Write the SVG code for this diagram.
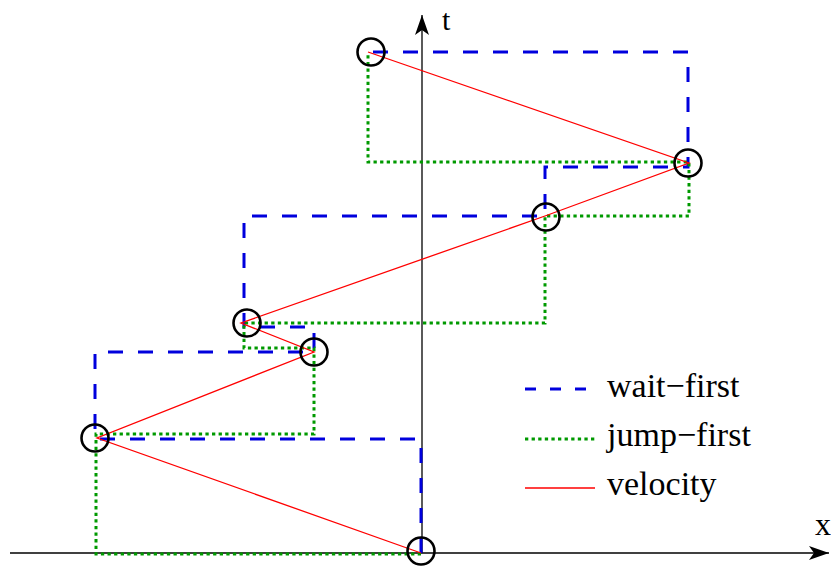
<svg xmlns="http://www.w3.org/2000/svg" width="831" height="569" viewBox="0 0 831 569">
<style>
.axis{stroke:#000;stroke-width:1.3;fill:none}
.wait{stroke:#0000dd;stroke-width:3;stroke-dasharray:15 15;fill:none}
.jump{stroke:#009900;stroke-width:3;stroke-dasharray:3.3 3.3;fill:none}
.vel{stroke:#ff0000;stroke-width:1.3;fill:none}
.pt{stroke:#000;stroke-width:2.6;fill:none}
.lbl{font-family:"Liberation Serif","Times New Roman",serif;font-size:34px;fill:#000}
</style>
<defs>
<marker id="ah" viewBox="0 0 20 14" refX="20" refY="7" markerWidth="20" markerHeight="14" markerUnits="userSpaceOnUse" orient="auto">
<path d="M0,0 L20,7 L0,14 L5,7 Z" fill="#000"/>
</marker>
</defs>
<g id="axes">
<line class="axis" x1="10" y1="553" x2="829" y2="553" marker-end="url(#ah)"/>
<line class="axis" x1="422" y1="553" x2="422" y2="15" marker-end="url(#ah)"/>
<text class="lbl" x="815" y="535" style="font-size:32px">x</text>
<text class="lbl" x="442" y="30" style="font-size:30px">t</text>
</g>
<g id="connectors">
<path id="wait-first" class="wait" d="M421,553 V439 H95 V352 H314 V327 H244 V216 H545 V167 H688 V52 H368"/>
<path id="jump-first" class="jump" d="M421,554 H96 V434 H314 V348 H244 V323 H545 V216 H689 V162 H368 V52"/>
<polyline id="velocity" class="vel" points="421,553 97,438 314,352 241,323 545,216 689,163 368,52"/>
</g>
<g id="points">
<circle id="p0" class="pt" cx="421" cy="551" r="13.5"/>
<circle id="p1" class="pt" cx="95" cy="438" r="13.5"/>
<circle id="p2" class="pt" cx="314" cy="352" r="13.5"/>
<circle id="p3" class="pt" cx="247" cy="323" r="13.5"/>
<circle id="p4" class="pt" cx="546" cy="217" r="13.5"/>
<circle id="p5" class="pt" cx="688" cy="163" r="13.5"/>
<circle id="p6" class="pt" cx="371" cy="52" r="13.5"/>
</g>
<g id="legend">
<line class="wait" x1="525" y1="389" x2="595" y2="389" style="stroke-dasharray:11 14"/>
<line class="jump" x1="525" y1="439" x2="595" y2="439"/>
<line class="vel" x1="525" y1="488" x2="595" y2="488"/>
<text class="lbl" x="607" y="397">wait−first</text>
<text class="lbl" x="607" y="446">jump−first</text>
<text class="lbl" x="607" y="495">velocity</text>
</g>
</svg>
